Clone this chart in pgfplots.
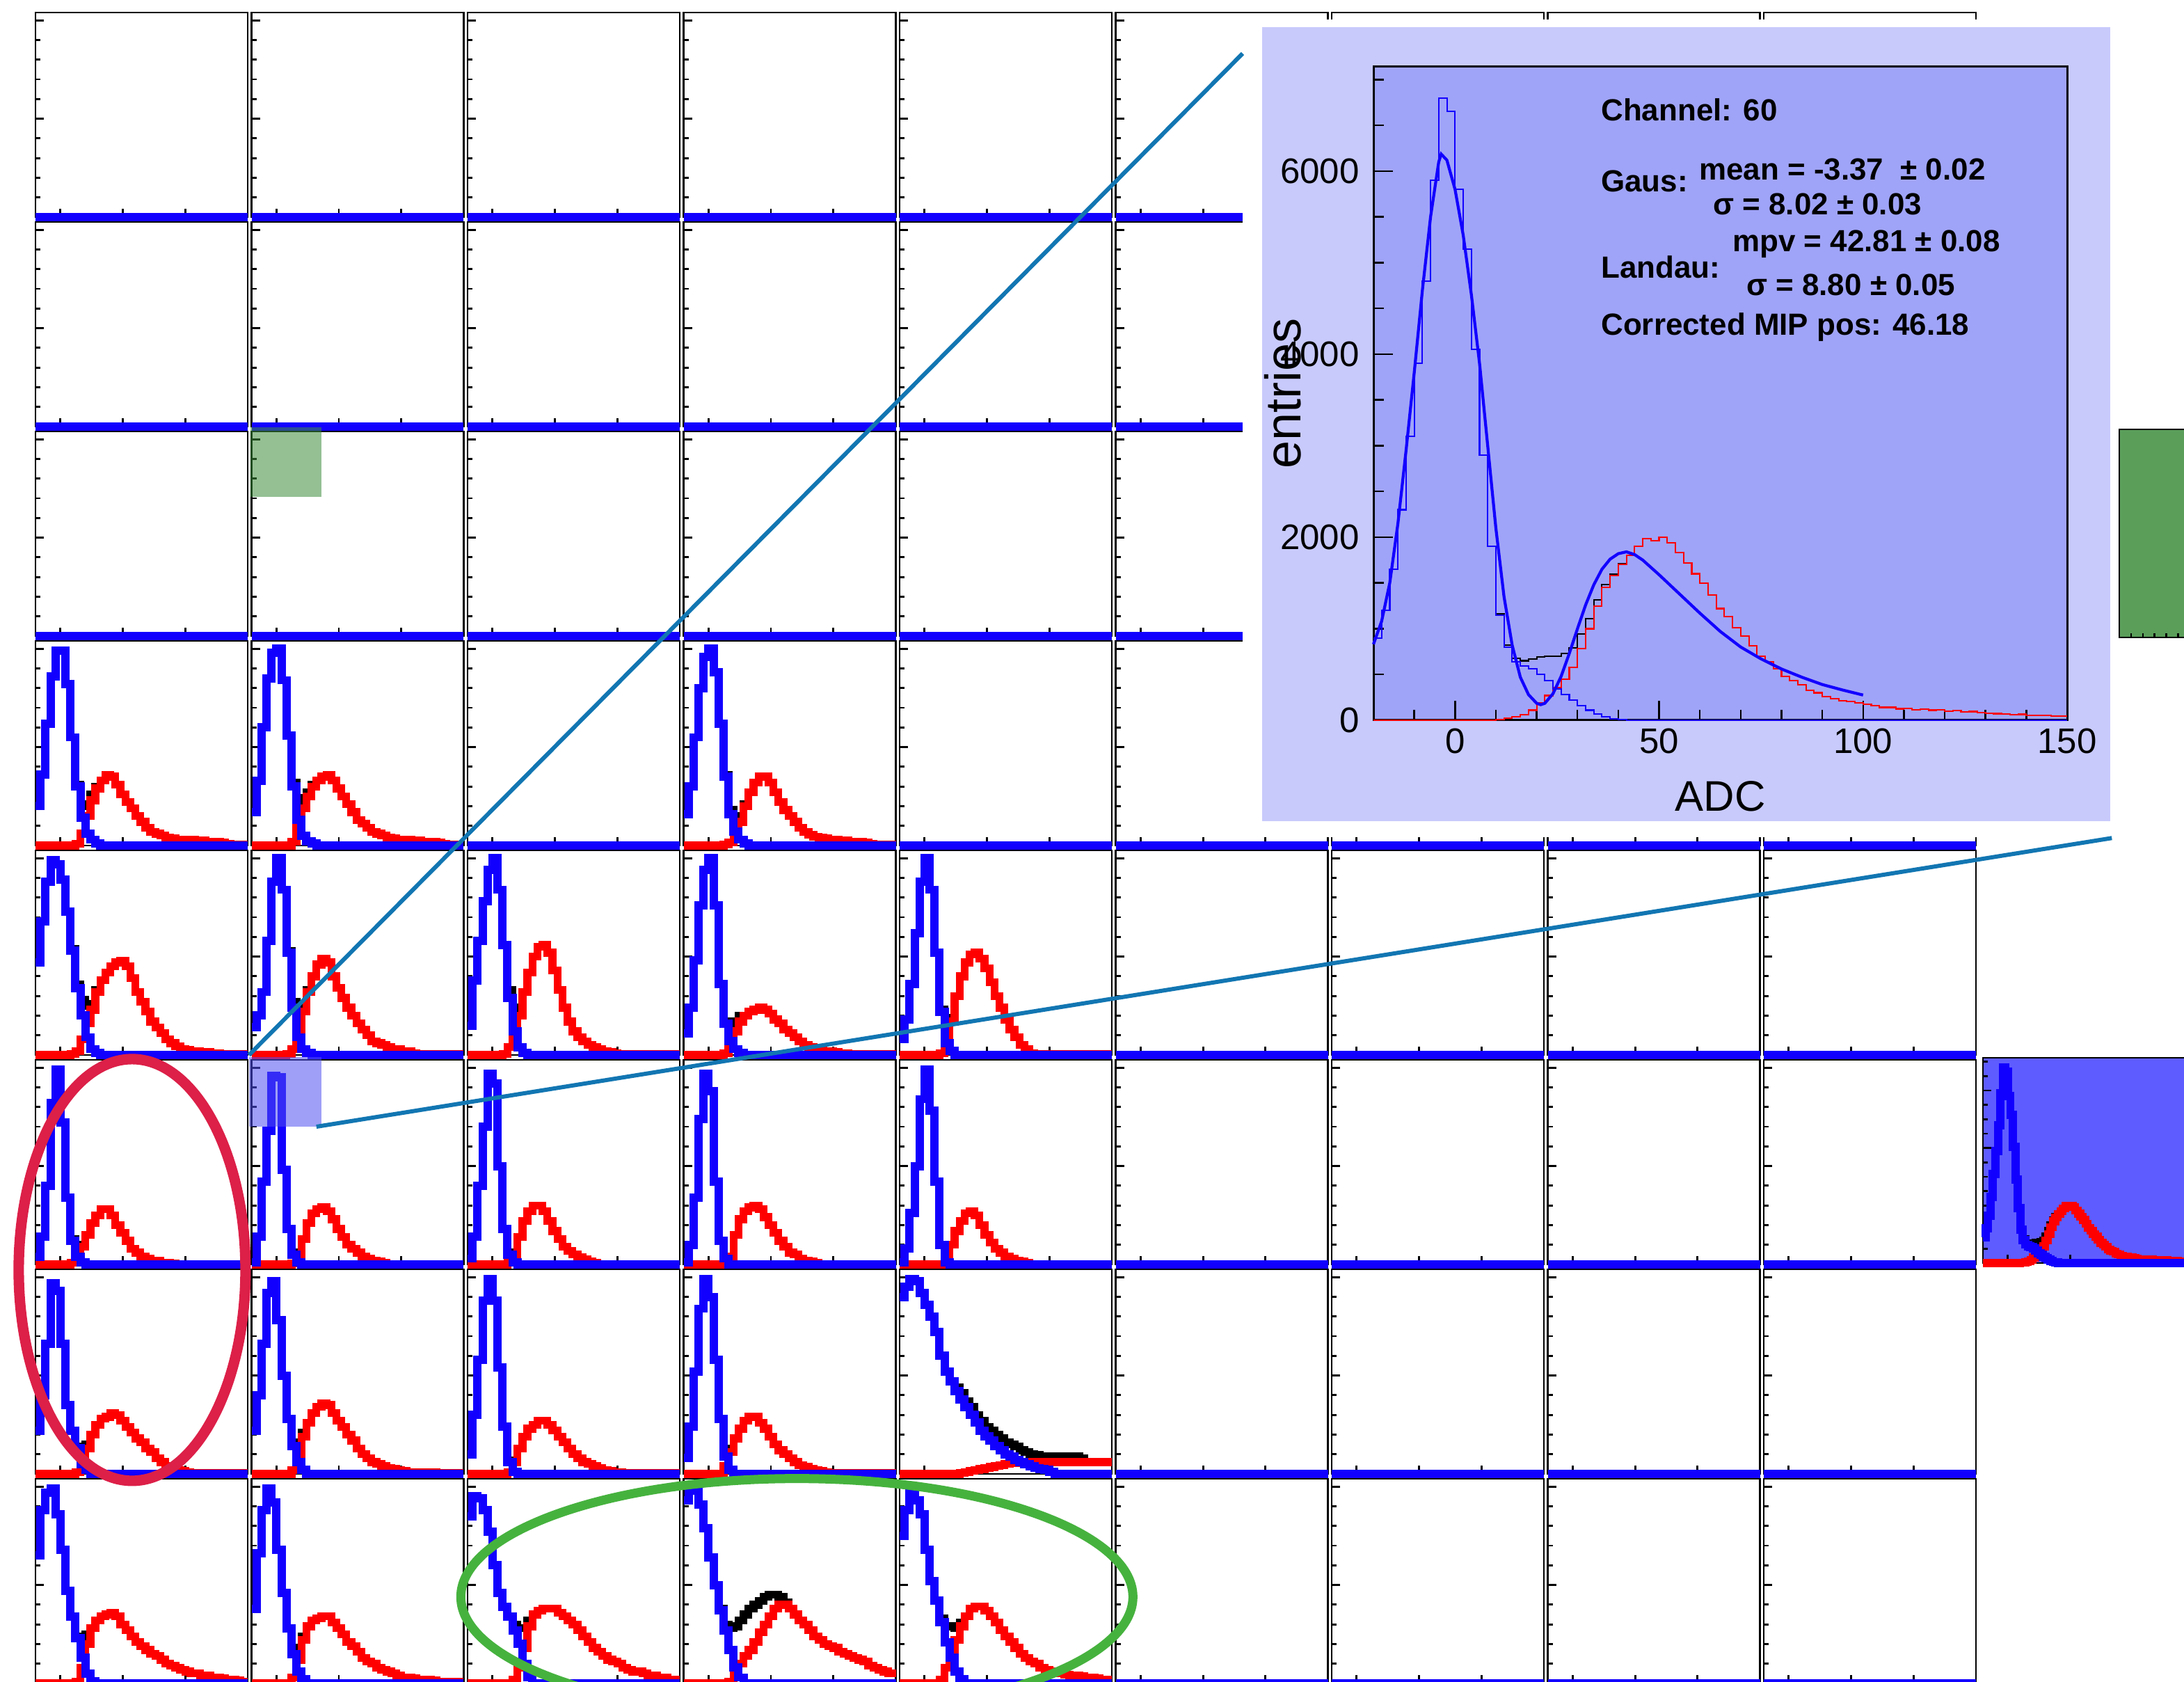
\documentclass[border=0pt]{standalone}
\usepackage{pgfplots}
\pgfplotsset{compat=1.18}
\usepackage{pgfplotstable}
\usepackage{fontspec}
\setmainfont{Liberation Sans}

\definecolor{hblue}{RGB}{18,0,255}
\definecolor{hred}{RGB}{255,0,0}
\definecolor{insetout}{RGB}{200,202,252}
\definecolor{insetin}{RGB}{160,164,248}
\definecolor{panelblue}{RGB}{95,92,255}
\definecolor{panelgreen}{RGB}{90,158,90}
\definecolor{selgreen}{RGB}{60,140,60}
\definecolor{selblue}{RGB}{80,80,240}
\definecolor{zoomline}{RGB}{18,118,178}
\definecolor{ringred}{RGB}{220,32,72}
\definecolor{ringgreen}{RGB}{70,178,62}

% ---- channel 60: ADC spectra (2-ADC bins, left edges) ----
\pgfplotstableread{
x y
-20 900
-18 1200
-16 1650
-14 2300
-12 3100
-10 3900
-8 4800
-6 5900
-4 6800
-2 6650
0 5800
2 5150
4 4050
6 2900
8 1900
10 1150
12 800
14 640
16 590
18 560
20 500
22 430
24 340
26 280
28 220
30 160
32 110
34 65
36 35
38 15
40 8
42 3
44 0
150 0
}\chblue
\pgfplotstableread{
x y
-20 0
10 10
12 20
14 35
16 60
18 110
20 190
22 270
24 355
26 450
28 580
30 780
32 1000
34 1250
36 1450
38 1580
40 1700
42 1800
44 1900
46 1985
48 1960
50 2000
52 1940
54 1830
56 1720
58 1600
60 1500
62 1370
64 1220
66 1130
68 1010
70 920
72 810
74 700
76 640
78 560
80 480
82 430
84 390
86 330
88 300
90 255
92 235
94 215
96 205
98 190
100 175
102 160
104 140
106 140
108 125
110 130
112 115
114 120
116 110
118 112
120 100
122 104
124 92
126 95
128 82
130 78
132 72
134 70
136 60
138 64
140 55
142 52
144 50
146 44
148 42
150 42
}\chred
\pgfplotstableread{
x y
10 1160
12 820
14 675
16 650
18 670
20 690
22 700
24 700
26 730
28 790
30 940
32 1110
34 1315
36 1485
38 1595
40 1708
42 1803
44 1900
}\chblack
\pgfplotstableread{
x y
-20 830
-18 1080
-16 1500
-14 2150
-12 2950
-10 3800
-8 4700
-6 5500
-4 6100
-3.4 6186
-2 6120
0 5800
2 5300
4 4650
6 3900
8 3000
10 2100
12 1350
14 820
16 470
18 280
20 185
21 170
22 185
24 290
26 480
28 730
30 1000
32 1260
34 1480
36 1650
38 1760
40 1820
42 1840
44 1810
46 1750
48 1670
50 1590
55 1380
60 1170
65 970
70 800
75 670
80 560
85 470
90 390
95 330
100 275
}\chfit

\pgfplotsset{
  cell/.style={scale only axis, width=3.05cm, height=2.94cm,
    xmin=-20, xmax=150, ymin=0, ymax=104, clip=false,
    axis line style={line width=0.8pt},
    xtick={0,50,100}, ytick={50,100}, minor ytick={10,20,...,100},
    xticklabels={}, yticklabels={}, tick align=inside, tick pos=left,
    major tick length=0.12cm, minor tick length=0.07cm,
    tick style={black, line width=0.8pt}},
  bl/.style={const plot mark left, no marks, line width=3.4pt, color=hblue},
  rd/.style={const plot mark left, no marks, line width=3.2pt, color=hred},
  bk/.style={const plot mark left, no marks, line width=3.2pt, color=black},
  blt/.style={const plot mark left, no marks, line width=0.6pt, color=hblue},
  rdt/.style={const plot mark left, no marks, line width=0.6pt, color=hred},
  bkt/.style={const plot mark left, no marks, line width=0.6pt, color=black},
}

\newcommand\cellpos[2]{%
  \pgfmathsetmacro\cellx{(51+310.5*#1)/100}%
  \pgfmathsetmacro\celly{(2417-18-301*#2)/100}}
\newcommand\emptycell[2]{%
  \cellpos{#1}{#2}%
  \begin{axis}[cell, at={(\cellx cm,\celly cm)}, anchor=north west]
    \addplot[bl] coordinates {(-20,0) (150,0)};
  \end{axis}}
% #3 pedestal (blue), #4 signal (red), #5 sum (black)
\newcommand\datacell[5]{%
  \cellpos{#1}{#2}%
  \begin{axis}[cell, at={(\cellx cm,\celly cm)}, anchor=north west]
    \addplot[bk] coordinates {#5};
    \addplot[rd] coordinates {#4};
    \addplot[bl] coordinates {#3};
  \end{axis}}
\newcommand\statfont{\fontsize{12.5}{15}\selectfont\bfseries}

\begin{document}
\begin{tikzpicture}
\useasboundingbox (0,0) rectangle (31.39cm,24.17cm);
\clip (0,0) rectangle (31.39cm,24.17cm);

% ---------- empty channels ----------
\foreach \r in {0,1,2}{\foreach \c in {0,...,8}{\emptycell{\c}{\r}}}
\foreach \c in {2,4,5,6,7,8}{\emptycell{\c}{3}}
\foreach \r in {4,...,7}{\foreach \c in {5,...,8}{\emptycell{\c}{\r}}}

% ---------- row 3 ----------
\datacell{0}{3}
 {(-20,20) (-16,36) (-12,62) (-8,86) (-4,99) (0,99) (4,82) (8,55) (12,30) (16,14) (20,6) (24,3) (28,1) (32,0) (150,0)}
 {(-20,0) (12,1) (16,6) (20,15) (24,23) (28,29) (32,33) (36,36) (40,35) (44,31) (48,26) (52,22) (56,19) (60,15) (64,12) (68,9) (72,7) (76,6) (80,5) (84,4) (88,3.5) (92,3) (96,3) (100,3) (104,3) (108,2.5) (112,2.5) (116,2) (120,2) (124,2) (128,1.5) (132,1) (136,0.5) (150,0.5)}
 {(4,82) (8,55) (12,31) (16,20) (20,21) (24,26) (28,30) (32,33)}
\datacell{1}{3}
 {(-20,17) (-16,33) (-12,60) (-8,85) (-4,98) (0,100) (4,84) (8,56) (12,30) (16,13) (20,5) (24,2) (28,1) (32,0) (150,0)}
 {(-20,0) (12,2) (16,10) (20,19) (24,25) (28,30) (32,33) (36,35) (40,36) (44,33) (48,29) (52,25) (56,21) (60,17) (64,13) (68,11) (72,9) (76,7) (80,6) (84,5) (88,4) (92,3.5) (96,3) (100,3) (104,3) (108,2.5) (112,2.5) (116,2) (120,2) (124,2) (128,1.5) (132,1) (136,0.5) (150,0.5)}
 {(4,84) (8,56) (12,32) (16,23) (20,24) (24,27) (28,31) (32,33)}
\datacell{3}{3}
 {(-20,16) (-16,30) (-12,55) (-8,80) (-4,96) (0,100) (4,88) (8,62) (12,35) (16,16) (20,7) (24,3) (28,1) (32,0) (150,0)}
 {(-20,0) (12,0.5) (16,1.5) (20,5) (24,12) (28,20) (32,27) (36,32) (40,35) (44,35) (48,32) (52,27) (56,22) (60,18) (64,15) (68,12) (72,9) (76,7) (80,5.5) (84,4.5) (88,4) (92,3.5) (96,3) (100,3) (104,2.5) (108,2.5) (112,2) (116,2) (120,2) (124,1.5) (128,1) (132,0.5) (150,0.5)}
 {(8,62) (12,36) (16,18) (20,12) (24,15) (28,21) (32,27)}

% ---------- row 4 ----------
\datacell{0}{4}
 {(-20,47) (-16,68) (-12,88) (-8,99) (-4,97) (0,89) (4,73) (8,53) (12,34) (16,20) (20,9) (24,3) (28,1) (32,0) (150,0)}
 {(-20,0) (8,0.5) (12,2) (16,8) (20,16) (24,23) (28,32) (32,38) (36,42) (40,45) (44,47) (48,48) (52,45) (56,39) (60,32) (64,27) (68,22) (72,17) (76,14) (80,11) (84,8) (88,6) (92,4.5) (96,3) (100,2.5) (104,2) (108,2) (112,1.5) (116,1.5) (120,1) (124,1) (128,0.5) (150,0.5)}
 {(8,54) (12,36) (16,28) (20,25) (24,26) (28,33) (32,38)}
\datacell{1}{4}
 {(-20,14) (-16,20) (-12,32) (-8,58) (-4,88) (0,100) (4,84) (8,52) (12,24) (16,9) (20,3) (24,1) (28,0) (150,0)}
 {(-20,0) (8,0.5) (12,3) (16,9) (20,22) (24,32) (28,40) (32,46) (36,49) (40,47) (44,40) (48,34) (52,29) (56,24) (60,20) (64,16) (68,13) (72,10) (76,7) (80,6) (84,5) (88,4) (92,3) (96,3) (100,2) (104,2) (108,1) (112,0.5) (150,0.5)}
 {(8,53) (12,27) (16,18) (20,25) (24,33) (28,40)}
\datacell{2}{4}
 {(-20,15) (-16,38) (-12,58) (-8,78) (-4,94) (0,100) (4,84) (8,56) (12,29) (16,12) (20,4) (24,1) (28,0) (150,0)}
 {(-20,0) (8,0.5) (12,4) (16,10) (20,20) (24,32) (28,42) (32,50) (36,55) (40,56) (44,52) (48,43) (52,33) (56,24) (60,17) (64,12) (68,9) (72,7) (76,5) (80,4) (84,3) (88,2) (92,1.5) (96,1) (100,0.5) (150,0.5)}
 {(12,33) (16,22) (20,24) (24,33)}
\datacell{3}{4}
 {(-20,11) (-16,24) (-12,48) (-8,76) (-4,94) (0,100) (4,76) (8,36) (12,16) (16,7) (20,3) (24,1) (28,0) (150,0)}
 {(-20,0) (12,1) (16,5) (20,12) (24,17) (28,20) (32,22) (36,23) (40,24) (44,23) (48,21) (52,18) (56,16) (60,13) (64,11) (68,9) (72,7) (76,5) (80,4) (84,3) (88,2.5) (92,2) (96,2) (100,1.5) (104,1) (108,1) (112,0.5) (150,0.5)}
 {(8,36) (12,17) (16,13) (20,17) (24,20) (28,21)}
\datacell{4}{4}
 {(-20,8) (-16,18) (-12,36) (-8,62) (-4,88) (0,100) (4,84) (8,52) (12,22) (16,6) (20,2) (24,0) (150,0)}
 {(-20,0) (12,1) (16,6) (20,17) (24,30) (28,40) (32,47) (36,51) (40,52) (44,49) (48,44) (52,37) (56,30) (60,24) (64,18) (68,13) (72,9) (76,5) (80,3) (84,1) (88,0.5) (150,0.5)}
 {(12,23) (16,12) (20,19) (24,30)}

% ---------- row 5 ----------
\datacell{0}{5}
 {(-20,4) (-16,14) (-12,40) (-8,82) (-4,99) (0,72) (4,34) (8,12) (12,4) (16,1) (20,0) (150,0)}
 {(-20,0) (8,1) (12,4) (16,9) (20,15) (24,21) (28,25) (32,28) (36,28) (40,25) (44,20) (48,16) (52,12) (56,8) (60,6) (64,4) (68,3) (72,2) (76,2) (80,1) (84,1) (88,0.5) (92,0) (150,0)}
 {(8,13) (12,8) (16,10) (20,15)}
\datacell{1}{5}
 {(-20,1) (-16,14) (-12,42) (-8,68) (-4,96) (0,95) (4,48) (8,18) (12,5) (16,1) (20,0) (150,0)}
 {(-20,0) (12,0.5) (16,3) (20,13) (24,21) (28,26) (32,28) (36,29) (40,27) (44,23) (48,18) (52,14) (56,10) (60,8) (64,6) (68,4) (72,3) (76,2) (80,1.5) (84,1) (88,0) (150,0)}
 {(12,6) (16,4) (20,13)}
\datacell{2}{5}
 {(-20,3) (-16,14) (-12,40) (-8,70) (-4,97) (0,92) (4,50) (8,18) (12,5) (16,1) (20,0) (150,0)}
 {(-20,0) (12,1) (16,5) (20,14) (24,22) (28,27) (32,30) (36,30) (40,27) (44,22) (48,17) (52,13) (56,9) (60,7) (64,5) (68,3.5) (72,2.5) (76,1.5) (80,1) (84,0) (150,0)}
 {(12,6) (16,6) (20,14)}
\datacell{3}{5}
 {(-20,1) (-16,10) (-12,34) (-8,74) (-4,97) (0,88) (4,42) (8,12) (12,3) (16,0) (150,0)}
 {(-20,0) (16,4) (20,15) (24,23) (28,27) (32,29) (36,30) (40,28) (44,24) (48,20) (52,16) (56,12) (60,9) (64,6) (68,5) (72,3) (76,2) (80,1.5) (84,1) (88,0) (150,0)}
 {(12,3) (16,4) (20,15)}
\datacell{4}{5}
 {(-20,1) (-16,8) (-12,26) (-8,50) (-4,84) (0,99) (4,78) (8,42) (12,10) (16,1) (20,0) (150,0)}
 {(-20,0) (16,3) (20,10) (24,17) (28,22) (32,26) (36,27) (40,25) (44,20) (48,15) (52,11) (56,8) (60,6) (64,4) (68,3) (72,2) (76,1.5) (80,1) (84,0) (150,0)}
 {(12,10) (16,4) (20,10)}

% ---------- row 6 ----------
\datacell{0}{6}
 {(-20,22) (-16,40) (-12,66) (-8,97) (-4,93) (0,66) (4,35) (8,22) (12,13) (16,5) (20,2) (24,0) (150,0)}
 {(-20,0) (12,1) (16,6) (20,13) (24,20) (28,25) (32,28) (36,29) (40,31) (44,30) (48,27) (52,24) (56,21) (60,18) (64,16) (68,13) (72,11) (76,8) (80,6) (84,4) (88,3) (92,2) (96,1.5) (100,1) (104,0.5) (150,0.5)}
 {(12,14) (16,11) (20,15) (24,20)}
\datacell{1}{6}
 {(-20,22) (-16,40) (-12,66) (-8,92) (-4,98) (0,78) (4,50) (8,28) (12,14) (16,6) (20,2) (24,0) (150,0)}
 {(-20,0) (12,2) (16,10) (20,19) (24,26) (28,31) (32,34) (36,36) (40,35) (44,31) (48,27) (52,24) (56,20) (60,17) (64,13) (68,10) (72,8) (76,6) (80,5) (84,4) (88,3) (92,2.5) (96,2) (100,1.5) (104,1) (108,1) (112,1) (116,1) (120,1) (124,1) (128,0.5) (150,0.5)}
 {(12,16) (16,16) (20,21) (24,26)}
\datacell{2}{6}
 {(-20,10) (-16,30) (-12,58) (-8,88) (-4,99) (0,88) (4,54) (8,24) (12,6) (16,1) (20,0) (150,0)}
 {(-20,0) (12,1) (16,6) (20,13) (24,19) (28,23) (32,25) (36,27) (40,27) (44,25) (48,22) (52,19) (56,16) (60,13) (64,10) (68,8) (72,6) (76,5) (80,4) (84,3) (88,2) (92,1.5) (96,1) (100,1) (104,0.5) (150,0.5)}
 {(12,7) (16,7) (20,13)}
\datacell{3}{6}
 {(-20,8) (-16,24) (-12,52) (-8,84) (-4,99) (0,90) (4,58) (8,28) (12,9) (16,2) (20,0) (150,0)}
 {(-20,0) (12,4) (16,11) (20,18) (24,23) (28,27) (32,29) (36,29) (40,26) (44,23) (48,19) (52,15) (56,12) (60,10) (64,8) (68,6) (72,4.5) (76,3.5) (80,2.5) (84,2) (88,1.5) (92,1) (96,0.5) (150,0.5)}
 {(8,28) (12,13) (16,13) (20,18)}
\datacell{4}{6}
 {(-20,90) (-16,95) (-12,99) (-8,98) (-4,92) (0,86) (4,80) (8,72) (12,60) (16,52) (20,47) (24,42) (28,38) (32,34) (36,30) (40,26) (44,22) (48,19) (52,17) (56,14) (60,12) (64,10) (68,9) (72,7) (76,6) (80,5) (84,4) (88,3) (92,2.5) (96,2) (100,1) (104,0) (150,0)}
 {(-20,0) (28,0.5) (32,1) (36,1.5) (40,2) (44,2.5) (48,3) (52,3.5) (56,4) (60,4.5) (64,5) (68,5.5) (72,5.5) (76,6) (150,6)}
 {(24,44) (28,41) (32,37) (36,34) (40,30) (44,27) (48,24) (52,22) (56,20) (60,18) (64,16) (68,15) (72,14) (76,12) (80,11) (84,10) (88,9.5) (92,9) (96,9) (100,9) (104,9) (108,9) (112,9) (116,9) (120,9) (124,8) (128,6) (150,6)}

% ---------- row 7 ----------
\datacell{0}{7}
 {(-20,65) (-16,88) (-12,97) (-8,99) (-4,86) (0,68) (4,47) (8,34) (12,23) (16,13) (20,5) (24,1) (28,0) (150,0)}
 {(-20,0) (12,1) (16,8) (20,20) (24,28) (28,32) (32,34) (36,35) (40,36) (44,34) (48,30) (52,27) (56,24) (60,21) (64,19) (68,17) (72,15) (76,14) (80,12) (84,10) (88,9) (92,8) (96,7) (100,6) (104,5) (108,5) (112,4) (116,4) (120,3) (124,3) (128,2.5) (132,2) (136,2) (140,1.5) (144,1) (150,1)}
 {(8,34) (12,24) (16,21) (20,25) (24,29)}
\datacell{1}{7}
 {(-20,38) (-16,66) (-12,88) (-8,99) (-4,92) (0,68) (4,46) (8,28) (12,15) (16,6) (20,2) (24,0) (150,0)}
 {(-20,0) (12,3) (16,12) (20,22) (24,29) (28,32) (32,33) (36,34) (40,34) (44,31) (48,28) (52,25) (56,21) (60,19) (64,16) (68,13) (72,11) (76,10) (80,8) (84,7) (88,6) (92,5) (96,4) (100,3) (104,3) (108,2.5) (112,2) (116,2) (120,2) (124,1.5) (128,1) (150,1)}
 {(8,28) (12,18) (16,18) (20,24) (24,29)}
\datacell{2}{7}
 {(-20,85) (-16,95) (-12,94) (-8,88) (-4,77) (0,60) (4,46) (8,39) (12,34) (16,27) (20,20) (24,10) (28,3) (32,0) (150,0)}
 {(-20,0) (16,2) (20,8) (24,18) (28,29) (32,35) (36,37) (40,38) (44,38) (48,38) (52,36) (56,34) (60,32) (64,30) (68,27) (72,24) (76,21) (80,18) (84,16) (88,14) (92,12) (96,11) (100,10) (104,8) (108,7) (112,6) (116,6) (120,5) (124,4) (128,4) (132,3) (136,3) (140,2) (144,2) (150,2)}
 {(12,34) (16,30) (20,28) (24,28) (28,32) (32,36)}
\datacell{3}{7}
 {(-20,93) (-16,98) (-12,99) (-8,91) (-4,79) (0,64) (4,50) (8,37) (12,27) (16,17) (20,8) (24,3) (28,0) (150,0)}
 {(-20,0) (16,1) (20,5) (24,10) (28,14) (32,17) (36,21) (40,26) (44,30) (48,34) (52,38) (56,40) (60,40) (64,38) (68,35) (72,32) (76,30) (80,27) (84,24) (88,22) (92,20) (96,19) (100,18) (104,16) (108,15) (112,14) (116,13) (120,12) (124,11) (128,9) (132,8) (136,7) (140,6) (144,5) (150,5)}
 {(8,38) (12,30) (16,28) (20,29) (24,32) (28,35) (32,38) (36,40) (40,42) (44,44) (48,45) (52,45) (56,44) (60,41) (64,38)}
\datacell{4}{7}
 {(-20,75) (-16,88) (-12,97) (-8,93) (-4,86) (0,68) (4,52) (8,42) (12,31) (16,21) (20,13) (24,6) (28,2) (32,0) (150,0)}
 {(-20,0) (12,2) (16,8) (20,16) (24,22) (28,29) (32,34) (36,38) (40,39) (44,39) (48,37) (52,34) (56,31) (60,27) (64,24) (68,21) (72,18) (76,15) (80,13) (84,11) (88,10) (92,8) (96,7) (100,6) (104,5.5) (108,5) (112,4.5) (116,4) (120,4) (124,3.5) (128,3) (132,3) (136,2.5) (140,2) (144,2) (150,2)}
 {(12,33) (16,29) (20,29) (24,28) (28,31) (32,35)}

% ---------- channel 60, drawn large ----------
\begin{scope}[x=0.01cm,y=-0.01cm,shift={(0,24.17cm)}]
  \fill[white] (1787,28) rectangle (3139,1204);
  \fill[insetout] (1815,39) rectangle (3035,1181);
\end{scope}

\begin{axis}[scale only axis, width=9.97cm, height=9.39cm,
  at={(19.74cm,13.82cm)}, anchor=south west,
  xmin=-20, xmax=150, ymin=0, ymax=7140, clip=false,
  axis background/.style={fill=insetin},
  axis line style={line width=0.85pt},
  tick align=inside, tick pos=left,
  xtick={0,50,100,150}, minor xtick={-10,10,20,30,40,60,70,80,90,110,120,130,140},
  ytick={0,2000,4000,6000}, minor ytick={500,1000,1500,2500,3000,3500,4500,5000,5500,6500,7000},
  major tick length=0.28cm, minor tick length=0.15cm,
  tick style={black, line width=0.7pt},
  /pgf/number format/assume math mode=true,
  /pgf/number format/set thousands separator={},
  tick label style={font=\fontsize{14.5}{16}\selectfont},
  yticklabel style={xshift=-0.08cm},
  xlabel={ADC}, ylabel={entries},
  xlabel style={font=\fontsize{17.5}{20}\selectfont, at={(axis description cs:0.5,-0.116)}, anchor=center},
  ylabel style={font=\fontsize{20.5}{24}\selectfont, at={(axis description cs:-0.1304,0.5)}, anchor=center},
]
  \addplot[bkt] table {\chblack};
  \addplot[rdt] table {\chred};
  \addplot[blt] table {\chblue};
  \addplot[hblue, line width=1.2pt, no marks] table {\chfit};
\end{axis}

\begin{scope}[x=0.01cm,y=-0.01cm,shift={(0,24.17cm)}]
  \node[anchor=west, inner sep=0, font=\statfont] at (2302,158) {Channel: 60};
  \node[anchor=west, inner sep=0, font=\statfont] at (2302,261) {Gaus:};
  \node[anchor=west, inner sep=0, font=\statfont] at (2443,244) {mean = -3.37 \ ± 0.02};
  \node[anchor=west, inner sep=0, font=\statfont] at (2463,294) {σ = 8.02 ± 0.03};
  \node[anchor=west, inner sep=0, font=\statfont] at (2302,384) {Landau:};
  \node[anchor=west, inner sep=0, font=\statfont] at (2491,351) {mpv = 42.81 ± 0.08};
  \node[anchor=west, inner sep=0, font=\statfont] at (2511,410) {σ = 8.80 ± 0.05};
  \node[anchor=west, inner sep=0, font=\statfont] at (2302,470) {Corrected MIP pos: 46.18};
\end{scope}

% ---------- neighbouring pads at the right edge ----------
\begin{axis}[scale only axis, width=3.05cm, height=2.99cm,
  at={(30.46cm,15.01cm)}, anchor=south west,
  xmin=0, xmax=18, ymin=0, ymax=1,
  axis background/.style={fill=panelgreen},
  axis line style={line width=0.8pt},
  xtick={1,...,17}, ytick=\empty, xticklabels={},
  tick align=inside, tick pos=left, major tick length=0.06cm,
  tick style={black, line width=0.8pt}]
\end{axis}

\begin{axis}[cell, at={(28.50cm,6.02cm)}, anchor=south west, height=2.95cm,
  ymax=7140, ytick={2000,4000,6000}, minor ytick={500,1000,...,7000},
  axis background/.style={fill=panelblue}]
  \addplot[bk] table {\chblack};
  \addplot[rd] table {\chred};
  \addplot[bl] table {\chblue};
\end{axis}

% ---------- selections, zoom lines and rings ----------
\begin{scope}[x=0.01cm,y=-0.01cm,shift={(0,24.17cm)}]
  \fill[selgreen, fill opacity=0.55] (360,614) rectangle (462,714);
  \fill[selblue, fill opacity=0.55] (358,1520) rectangle (462,1620);
  \draw[zoomline, line width=1.7pt] (358,1517) -- (1787,77);
  \draw[zoomline, line width=1.7pt] (455,1620) -- (3037,1205);
  \draw[ringred, line width=4.3pt] (190,1826) ellipse [x radius=1.63cm, y radius=3.03cm];
  \draw[ringgreen, line width=3.7pt] (1146,2296) ellipse [x radius=4.83cm, y radius=1.70cm];
\end{scope}
\end{tikzpicture}
\end{document}
